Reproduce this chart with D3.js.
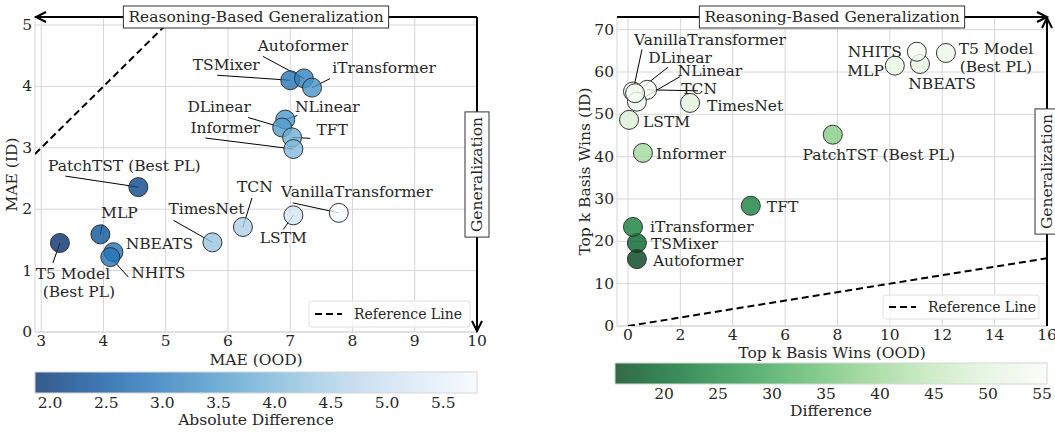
<!DOCTYPE html>
<html>
<head>
<meta charset="utf-8">
<script src="https://cdn.jsdelivr.net/npm/d3@7"></script>
<style>
  body { margin: 0; background: #fff; }
  svg { font-family: "DejaVu Serif", serif; }
  text { fill: #262626; }
</style>
</head>
<body>
<svg id="chart" width="1055" height="432"></svg>
<script>
// models, shared by both panels
var models = ["T5 Model\n(Best PL)", "MLP", "NBEATS", "NHITS", "PatchTST (Best PL)", "TimesNet", "TCN", "LSTM",
  "VanillaTransformer", "TSMixer", "Autoformer", "iTransformer", "NLinear", "DLinear", "TFT", "Informer"];

// left panel: MAE
var maeOOD = [3.30, 3.95, 4.16, 4.11, 4.56, 5.75, 6.24, 7.05, 7.78, 7.00, 7.22, 7.35, 6.92, 6.87, 7.03, 7.05];
var maeID = [1.45, 1.59, 1.30, 1.22, 2.36, 1.46, 1.71, 1.90, 1.94, 4.10, 4.13, 3.98, 3.46, 3.33, 3.17, 2.98];

// right panel: top k basis wins
var winsOOD = [12.14, 10.19, 11.15, 11.03, 7.82, 2.37, 0.73, 0.04, 0.19, 0.34, 0.34, 0.19, 0.34, 0.27, 4.69, 0.57];
var winsID = [64.5, 61.5, 61.9, 64.8, 45.2, 52.7, 55.8, 48.7, 55.4, 19.6, 15.8, 23.4, 53.0, 55.0, 28.4, 40.9];

var maeXTicks = [3, 4, 5, 6, 7, 8, 9, 10];
var maeYTicks = [0, 1, 2, 3, 4, 5];
var winsXTicks = [0, 2, 4, 6, 8, 10, 12, 14, 16];
var winsYTicks = [0, 10, 20, 30, 40, 50, 60, 70];
var absDiffTicks = [2.0, 2.5, 3.0, 3.5, 4.0, 4.5, 5.0, 5.5];
var winDiffTicks = [20, 25, 30, 35, 40, 45, 50, 55];

// label placement: [text dx, text dy, anchor, line dx, line dy] relative to the point, pixels
var maeLabelPos = [
  [13, 31, "middle", -7, 20], [19, -21, "middle", 2, -10], [46, -8, "middle", 0, 0], [48, 16, "middle", 18, 20],
  [-14, -21, "middle", -73, -11], [-6, -33, "middle", -39, -22], [12, -40, "middle", 9, -29], [-10, 23, "middle", -10, 14],
  [18, -21, "middle", -46, -10], [-64, -15, "middle", -73, -5], [-1, -32, "middle", -41, -22], [72, -20, "middle", 18, -9],
  [42, -13, "middle", 12, -4], [-63, -21, "middle", -34, -10], [40, -7, "middle", 18, 1], [-68, -21, "middle", -88, -11]
];
var winsLabelPos = [
  [50, -4, "middle", 0, 0], [-11, 5, "end", 0, 0], [22, 20, "middle", 0, 0], [-15, 0, "end", 0, 0],
  [46, 20, "middle", 0, 0], [17, 3, "start", 0, 0], [52, -1, "middle", 51, 1], [14, 2, "start", 0, 0],
  [77, -51, "middle", 9, -42], [14, 1, "start", 0, 0], [16, 2, "start", 0, 0], [17, 0, "start", 0, 0],
  [73, -31, "middle", 43, -25], [45, -35, "middle", 33, -26], [16, 1, "start", 0, 0], [13, 1, "start", 0, 0]
];

var svg = d3.select("#chart");
var fs = 15.5;

function arrowHead(g, x, y, dir) {
  var L = 10, W = 5, p;
  if (dir === "left") p = [[x + L, y - W], [x, y], [x + L, y + W]];
  if (dir === "right") p = [[x - L, y - W], [x, y], [x - L, y + W]];
  if (dir === "down") p = [[x - W, y - L], [x, y], [x + W, y - L]];
  if (dir === "up") p = [[x - W, y + L], [x, y], [x + W, y + L]];
  g.append("path").attr("d", d3.line()(p)).attr("fill", "none").attr("stroke", "#000").attr("stroke-width", 2);
}

function panel(opt) {
  var x = d3.scaleLinear().domain(opt.xDomain).range(opt.xRange);
  var y = d3.scaleLinear().domain(opt.yDomain).range(opt.yRange);
  var g = svg.append("g");
  var x0 = opt.xRange[0], x1 = opt.xRange[1], y0 = opt.yRange[0], y1 = opt.yRange[1];

  // grid
  g.selectAll(".gx").data(opt.xTicks).enter().append("line")
    .attr("x1", d => x(d)).attr("x2", d => x(d)).attr("y1", y0).attr("y2", y1)
    .attr("stroke", "#d6d6d6").attr("stroke-width", 1);
  g.selectAll(".gy").data(opt.yTicks).enter().append("line")
    .attr("x1", x0).attr("x2", x1).attr("y1", d => y(d)).attr("y2", d => y(d))
    .attr("stroke", "#d6d6d6").attr("stroke-width", 1);
  g.append("rect").attr("x", x0).attr("y", y1).attr("width", x1 - x0).attr("height", y0 - y1)
    .attr("fill", "none").attr("stroke", "#d6d6d6");

  // tick labels
  g.selectAll(".tx").data(opt.xTicks).enter().append("text")
    .attr("x", d => x(d)).attr("y", y0 + 9).attr("text-anchor", "middle").attr("dominant-baseline", "central")
    .attr("font-size", fs).text(d => d);
  g.selectAll(".ty").data(opt.yTicks).enter().append("text")
    .attr("x", x0 - 3).attr("y", d => y(d)).attr("text-anchor", "end").attr("dominant-baseline", "central")
    .attr("font-size", fs).text(d => d);

  g.append("text").attr("x", (x0 + x1) / 2).attr("y", opt.xLabelY).attr("text-anchor", "middle")
    .attr("dominant-baseline", "central").attr("font-size", fs).text(opt.xLabel);
  g.append("text").attr("transform", "translate(" + opt.yLabelX + "," + ((y0 + y1) / 2) + ") rotate(-90)")
    .attr("text-anchor", "middle").attr("dominant-baseline", "central").attr("font-size", fs).text(opt.yLabel);

  // reference line y = x, clipped to the axes
  var clipId = "clip" + opt.id;
  svg.append("clipPath").attr("id", clipId).append("rect")
    .attr("x", x0).attr("y", y1).attr("width", x1 - x0).attr("height", y0 - y1);
  var lo = Math.max(opt.xDomain[0], opt.yDomain[0]), hi = Math.min(opt.xDomain[1], opt.yDomain[1]);
  g.append("line").attr("clip-path", "url(#" + clipId + ")")
    .attr("x1", x(lo)).attr("y1", y(lo)).attr("x2", x(hi)).attr("y2", y(hi))
    .attr("stroke", "#000").attr("stroke-width", 2).attr("stroke-dasharray", "7,4");

  // color
  var diffs = opt.xs.map((v, i) => Math.abs(opt.ys[i] - v));
  var cExt = d3.extent(diffs);
  var color = d3.scaleSequential(t => opt.interp(1 - t)).domain(cExt);

  // leader lines
  g.selectAll(".lead").data(models).enter().filter((d, i) => opt.pos[i][3] !== 0 || opt.pos[i][4] !== 0)
    .append("line")
    .attr("x1", d => x(opt.xs[models.indexOf(d)])).attr("y1", d => y(opt.ys[models.indexOf(d)]))
    .attr("x2", d => x(opt.xs[models.indexOf(d)]) + opt.pos[models.indexOf(d)][3])
    .attr("y2", d => y(opt.ys[models.indexOf(d)]) + opt.pos[models.indexOf(d)][4])
    .attr("stroke", "#000").attr("stroke-width", 1);

  // points
  g.selectAll(".pt").data(models).enter().append("circle")
    .attr("cx", (d, i) => x(opt.xs[i])).attr("cy", (d, i) => y(opt.ys[i])).attr("r", 9.5)
    .attr("fill", (d, i) => color(diffs[i])).attr("fill-opacity", 0.8)
    .attr("stroke", "#333").attr("stroke-width", 1);

  // labels
  models.forEach(function (m, i) {
    var p = opt.pos[i];
    var lines = m.split("\n");
    var t = g.append("text").attr("font-size", fs).attr("text-anchor", p[2]);
    lines.forEach(function (ln, k) {
      t.append("tspan").attr("x", x(opt.xs[i]) + p[0] + (k > 0 && opt.id === "L" ? 6 : 0))
        .attr("y", y(opt.ys[i]) + p[1] + k * 18).attr("dominant-baseline", "central").text(ln);
    });
  });

  // legend
  var lg = g.append("g");
  lg.append("rect").attr("x", opt.legend[0]).attr("y", opt.legend[1]).attr("width", opt.legend[2]).attr("height", opt.legend[3])
    .attr("rx", 3).attr("fill", "#fff").attr("fill-opacity", 0.8).attr("stroke", "#e0e0e0");
  var ly = opt.legend[1] + opt.legend[3] / 2;
  lg.append("line").attr("x1", opt.legend[0] + 6).attr("x2", opt.legend[0] + 33).attr("y1", ly).attr("y2", ly)
    .attr("stroke", "#000").attr("stroke-width", 2).attr("stroke-dasharray", "7,4");
  lg.append("text").attr("x", opt.legend[0] + 45).attr("y", ly).attr("dominant-baseline", "central")
    .attr("font-size", 14).text("Reference Line");

  // generalization arrows
  var ag = g.append("g");
  ag.append("line").attr("x1", x0).attr("x2", x1).attr("y1", y1).attr("y2", y1).attr("stroke", "#000").attr("stroke-width", 2);
  ag.append("line").attr("x1", x1).attr("x2", x1).attr("y1", y1).attr("y2", y0).attr("stroke", "#000").attr("stroke-width", 2);
  if (opt.id === "L") {
    arrowHead(ag, x0 + 1, y1, "left");
    arrowHead(ag, x1, y0 - 1, "down");
  } else {
    arrowHead(ag, x1, y1, "right");
    arrowHead(ag, x1, y1 + 1, "up");
  }
  var bx = (x0 + x1) / 2;
  var t1 = ag.append("text").attr("x", bx).attr("y", y1).attr("text-anchor", "middle").attr("dominant-baseline", "central")
    .attr("font-size", fs).text("Reasoning-Based Generalization");
  var bb = t1.node().getBBox();
  ag.insert("rect", "text").attr("x", bb.x - 5).attr("y", y1 - 11).attr("width", bb.width + 10).attr("height", 22)
    .attr("fill", "#fff").attr("stroke", "#333");
  var by = (y0 + y1) / 2;
  var t2 = ag.append("text").attr("transform", "translate(" + x1 + "," + by + ") rotate(-90)")
    .attr("text-anchor", "middle").attr("dominant-baseline", "central").attr("font-size", fs).text("Generalization");
  var w2 = t2.node().getBBox().width;
  ag.insert("rect", "text:last-child").attr("x", x1 - 12).attr("y", by - w2 / 2 - 5).attr("width", 24).attr("height", w2 + 10)
    .attr("fill", "#fff").attr("stroke", "#333");

  // colorbar
  var cb = opt.cbar;
  var cs = d3.scaleLinear().domain(cb.domain).range([cb.x0, cb.x1]);
  var gradId = "grad" + opt.id;
  var grad = svg.append("defs").append("linearGradient").attr("id", gradId);
  d3.range(0, 1.0001, 0.05).forEach(function (f) {
    var v = cb.domain[0] + f * (cb.domain[1] - cb.domain[0]);
    var t = Math.max(0, Math.min(1, (v - cExt[0]) / (cExt[1] - cExt[0])));
    grad.append("stop").attr("offset", f).attr("stop-color", opt.interp(1 - t));
  });
  g.append("rect").attr("x", cb.x0).attr("y", cb.y).attr("width", cb.x1 - cb.x0).attr("height", cb.h)
    .attr("fill", "url(#" + gradId + ")").attr("fill-opacity", 0.8).attr("stroke", "#d6d6d6");
  g.selectAll(".ct").data(cb.ticks).enter().append("text")
    .attr("x", d => cs(d)).attr("y", cb.y + cb.h + 10).attr("text-anchor", "middle").attr("dominant-baseline", "central")
    .attr("font-size", fs).text(d => cb.fmt(d));
  g.append("text").attr("x", (cb.x0 + cb.x1) / 2).attr("y", cb.y + cb.h + 27).attr("text-anchor", "middle")
    .attr("dominant-baseline", "central").attr("font-size", fs).text(cb.label);
}

panel({
  id: "L", xs: maeOOD, ys: maeID, pos: maeLabelPos,
  xDomain: [2.9, 10], xRange: [35, 477], yDomain: [0, 5.13], yRange: [332, 17],
  xTicks: maeXTicks, yTicks: maeYTicks, xLabel: "MAE (OOD)", yLabel: "MAE (ID)", xLabelY: 360, yLabelX: 12,
  interp: d3.interpolateBlues, legend: [309, 301, 161, 26],
  cbar: { x0: 35, x1: 477, y: 372, h: 21, domain: [1.866, 5.80], ticks: absDiffTicks, fmt: d3.format(".1f"), label: "Absolute Difference" }
});

panel({
  id: "R", xs: winsOOD, ys: winsID, pos: winsLabelPos,
  xDomain: [-0.42, 16], xRange: [617, 1047], yDomain: [0, 73], yRange: [326, 17],
  xTicks: winsXTicks, yTicks: winsYTicks, xLabel: "Top k Basis Wins (OOD)", yLabel: "Top k Basis Wins (ID)", xLabelY: 353, yLabelX: 585,
  interp: d3.interpolateGreens, legend: [883, 295, 156, 24],
  cbar: { x0: 615, x1: 1047, y: 363, h: 21, domain: [15.46, 55.46], ticks: winDiffTicks, fmt: d3.format("d"), label: "Difference" }
});
</script>
</body>
</html>
